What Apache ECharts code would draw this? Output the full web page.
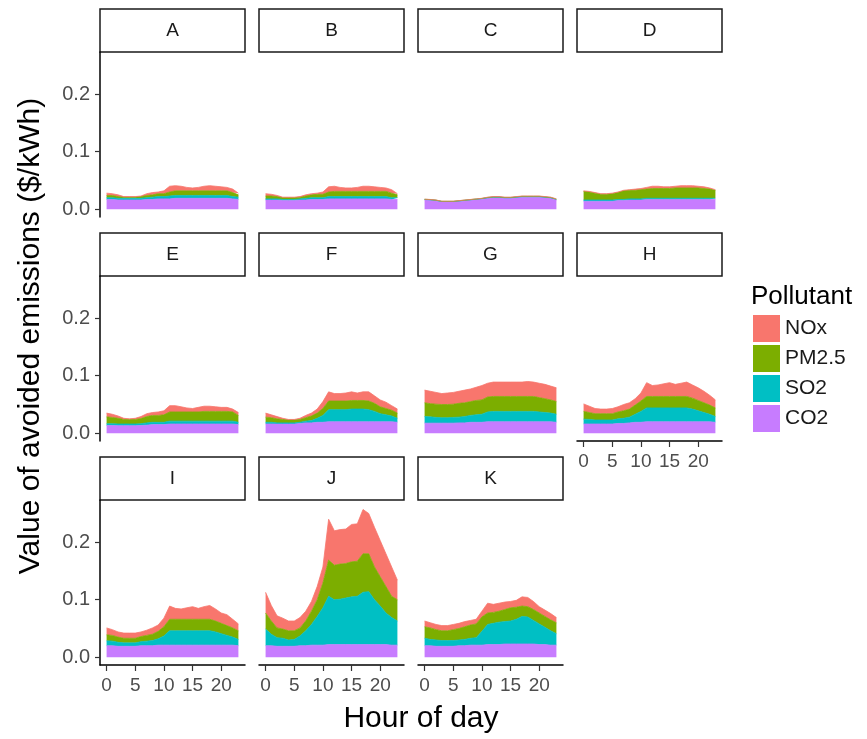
<!DOCTYPE html>
<html>
<head>
<meta charset="utf-8">
<script src="https://cdn.jsdelivr.net/npm/echarts@6/dist/echarts.min.js"></script>
<style>
    html, body { margin: 0; padding: 0; background: #fff; }
    #main { width: 867px; height: 739px; }
</style>
</head>
<body>
<div id="main"></div>
<script>
// ---- data ----
var hours = [0,1,2,3,4,5,6,7,8,9,10,11,12,13,14,15,16,17,18,19,20,21,22,23];
var panels = ['A','B','C','D','E','F','G','H','I','J','K'];
var xTicks = [0, 5, 10, 15, 20];
var yTicks = [0, 0.1, 0.2];

// one row per panel (A..K), one value per hour
var co2 = [
    [.017,.017,.016,.016,.016,.016,.016,.017,.017,.018,.018,.018,.019,.019,.019,.019,.019,.019,.019,.019,.019,.019,.018,.017],
    [.016,.016,.016,.015,.015,.015,.016,.016,.017,.017,.017,.018,.018,.018,.018,.018,.018,.018,.018,.018,.018,.018,.017,.017],
    [.016,.0155,.0145,.0125,.0125,.0125,.0135,.0145,.0155,.0165,.0175,.019,.020,.020,.019,.019,.020,.021,.021,.021,.021,.020,.019,.016],
    [.014,.014,.014,.014,.014,.014,.015,.015,.016,.016,.016,.017,.017,.017,.017,.017,.017,.017,.017,.017,.017,.017,.017,.017],
    [.0135,.0135,.013,.013,.013,.013,.0135,.014,.015,.015,.015,.016,.016,.016,.016,.016,.016,.016,.016,.016,.016,.016,.016,.015],
    [.016,.016,.016,.016,.016,.016,.017,.018,.018,.019,.019,.020,.020,.020,.020,.020,.020,.020,.020,.020,.020,.020,.020,.019],
    [.0175,.0175,.0175,.0175,.0175,.0175,.018,.018,.019,.019,.019,.020,.020,.020,.020,.020,.020,.020,.020,.020,.020,.020,.020,.019],
    [.016,.016,.016,.016,.016,.016,.017,.017,.018,.019,.019,.020,.020,.020,.020,.020,.020,.020,.020,.020,.020,.020,.020,.019],
    [.020,.020,.019,.019,.019,.019,.020,.020,.020,.021,.021,.021,.021,.021,.021,.021,.021,.021,.021,.021,.021,.021,.021,.020],
    [.020,.020,.019,.019,.019,.019,.020,.020,.021,.021,.021,.022,.022,.022,.022,.022,.022,.022,.022,.022,.022,.022,.021,.021],
    [.020,.020,.019,.019,.019,.019,.020,.020,.021,.021,.021,.022,.022,.022,.023,.023,.023,.023,.023,.023,.022,.022,.021,.021]
];
var so2 = [
    [.003,.003,.003,.003,.003,.003,.003,.003,.004,.004,.004,.005,.005,.005,.005,.005,.005,.005,.005,.005,.005,.005,.004,.004],
    [.002,.002,.002,.002,.002,.002,.002,.003,.003,.003,.003,.004,.004,.004,.004,.004,.004,.004,.004,.004,.004,.004,.003,.003],
    [.001,.001,.001,.001,.001,.001,.001,.001,.001,.001,.001,.001,.001,.001,.001,.001,.001,.001,.001,.001,.001,.001,.001,.001],
    [.002,.002,.002,.002,.002,.002,.002,.002,.002,.002,.002,.002,.002,.002,.002,.002,.002,.002,.002,.002,.002,.002,.002,.002],
    [.003,.003,.003,.003,.003,.003,.003,.004,.004,.004,.004,.005,.005,.005,.005,.005,.005,.005,.005,.005,.005,.005,.005,.004],
    [.003,.003,.002,.002,.002,.002,.002,.003,.004,.007,.012,.021,.021,.021,.021,.022,.022,.022,.021,.018,.014,.012,.010,.007],
    [.0115,.011,.010,.0095,.0095,.010,.010,.011,.012,.013,.014,.017,.018,.018,.018,.018,.018,.018,.018,.018,.017,.016,.015,.014],
    [.0085,.008,.007,.007,.007,.007,.008,.009,.010,.014,.019,.024,.024,.024,.024,.024,.024,.024,.024,.022,.019,.016,.013,.010],
    [.0085,.008,.007,.006,.006,.006,.007,.008,.009,.011,.016,.025,.025,.025,.025,.025,.025,.025,.025,.023,.020,.017,.014,.011],
    [.029,.020,.015,.014,.011,.012,.017,.026,.036,.050,.065,.084,.078,.079,.081,.083,.084,.091,.092,.078,.067,.055,.048,.042],
    [.013,.011,.011,.010,.010,.010,.010,.011,.012,.013,.024,.035,.037,.039,.039,.040,.043,.048,.047,.041,.036,.030,.025,.020]
];
var pm25 = [
    [.004,.004,.003,.002,.002,.002,.003,.004,.004,.005,.005,.007,.008,.008,.008,.008,.008,.008,.008,.008,.008,.008,.007,.004],
    [.005,.005,.004,.003,.003,.003,.003,.004,.005,.006,.006,.008,.009,.009,.009,.009,.009,.009,.009,.009,.009,.009,.008,.005],
    [.0003,.0003,.0003,.0003,.0003,.0003,.0003,.0003,.0003,.0003,.0003,.0005,.0005,.0005,.0005,.0005,.0005,.0005,.0005,.0005,.0005,.0005,.0005,.0005],
    [.015,.014,.012,.010,.010,.011,.012,.015,.015,.015,.016,.016,.017,.017,.017,.017,.018,.018,.018,.018,.018,.017,.016,.014],
    [.012,.011,.010,.008,.008,.008,.009,.011,.012,.012,.013,.016,.016,.016,.016,.016,.016,.017,.017,.017,.017,.017,.016,.012],
    [.009,.008,.007,.006,.005,.005,.005,.006,.008,.009,.012,.015,.015,.015,.015,.015,.015,.015,.015,.014,.012,.011,.010,.009],
    [.024,.023,.023,.023,.023,.023,.024,.024,.024,.025,.025,.026,.026,.026,.026,.026,.026,.026,.026,.026,.025,.024,.023,.022],
    [.0135,.012,.011,.011,.011,.011,.012,.013,.014,.016,.018,.020,.020,.020,.020,.020,.020,.020,.020,.019,.018,.017,.016,.015],
    [.0105,.010,.009,.008,.008,.008,.009,.010,.011,.013,.016,.020,.020,.020,.020,.020,.020,.020,.020,.019,.018,.017,.016,.015],
    [.028,.023,.017,.016,.016,.015,.014,.017,.023,.029,.043,.063,.060,.061,.060,.061,.061,.067,.066,.057,.051,.046,.037,.037],
    [.020,.020,.018,.017,.017,.019,.020,.022,.023,.024,.025,.020,.019,.019,.021,.023,.021,.018,.018,.019,.019,.019,.019,.019]
];
var nox = [
    [.004,.003,.003,.001,.001,.001,.001,.003,.004,.003,.005,.010,.009,.008,.006,.005,.006,.008,.009,.008,.007,.006,.006,.003],
    [.004,.003,.002,.001,.001,.001,.001,.002,.002,.002,.004,.009,.009,.007,.006,.006,.007,.009,.009,.008,.007,.006,.006,.002],
    [.0002,.0002,.0002,.0002,.0002,.0002,.0002,.0002,.0002,.0002,.0002,.0005,.0005,.0005,.0005,.0005,.0005,.0005,.0005,.0005,.0005,.0005,.0005,.0005],
    [.001,.001,.001,.001,.001,.001,.001,.001,.001,.002,.002,.003,.004,.004,.003,.003,.003,.004,.004,.004,.003,.003,.002,.001],
    [.0065,.0055,.004,.002,.001,.002,.0035,.005,.005,.006,.007,.011,.011,.009,.007,.006,.008,.009,.009,.008,.007,.007,.005,.005],
    [.007,.005,.004,.002,.001,.001,.002,.004,.005,.007,.012,.016,.013,.013,.014,.015,.013,.015,.016,.013,.012,.011,.008,.007],
    [.022,.0215,.0205,.019,.020,.0205,.021,.022,.022,.023,.025,.024,.025,.025,.025,.025,.025,.025,.026,.025,.025,.025,.024,.024],
    [.013,.011,.009,.008,.008,.009,.009,.011,.011,.011,.014,.024,.019,.020,.022,.024,.021,.023,.025,.023,.022,.020,.017,.014],
    [.012,.010,.009,.009,.009,.009,.008,.009,.011,.011,.015,.023,.019,.018,.020,.022,.019,.022,.024,.021,.018,.019,.015,.012],
    [.036,.027,.021,.019,.017,.017,.018,.017,.017,.023,.028,.071,.060,.060,.060,.065,.065,.077,.070,.069,.063,.057,.051,.034],
    [.010,.009,.009,.009,.009,.009,.009,.009,.008,.008,.010,.017,.014,.014,.013,.011,.012,.016,.016,.014,.011,.011,.011,.009]
];

// stacking order, bottom to top
var pollutants = [
    {name: 'CO2',   color: '#C77CFF', values: co2},
    {name: 'SO2',   color: '#00BFC4', values: so2},
    {name: 'PM2.5', color: '#7CAE00', values: pm25},
    {name: 'NOx',   color: '#F8766D', values: nox}
];

// ---- layout ----
var FONT = '"Liberation Sans", Arial, sans-serif';
var colLeft0 = 100, colStep = 159, panelW = 145;
var rowTop0 = 9, rowStep = 224, stripH = 43, panelH = 165;

var grids = [], xAxes = [], yAxes = [], series = [], graphics = [];

panels.forEach(function (letter, i) {
    var r = Math.floor(i / 4), c = i % 4;
    var left = colLeft0 + c * colStep;
    var top = rowTop0 + r * rowStep;
    var showX = i >= 7;      // bottom panel of each column
    var showY = c === 0;

    grids.push({left: left, top: top + stripH, width: panelW, height: panelH});

    xAxes.push({
        gridIndex: i, type: 'value', min: -1.15, max: 24.15,
        axisLine: {show: showX, onZero: false, lineStyle: {color: '#000', width: 1.5}},
        axisTick: {show: showX, customValues: xTicks, length: 6, lineStyle: {color: '#333', width: 1.2}},
        axisLabel: {show: showX, customValues: xTicks, margin: 11, fontSize: 19, color: '#4d4d4d', fontFamily: FONT},
        splitLine: {show: false}
    });
    yAxes.push({
        gridIndex: i, type: 'value', min: -0.0135, max: 0.2735,
        axisLine: {show: showY, onZero: false, lineStyle: {color: '#000', width: 1.5}},
        axisTick: {show: showY, customValues: yTicks, length: 5, lineStyle: {color: '#333', width: 1.2}},
        axisLabel: {show: showY, customValues: yTicks, margin: 10, fontSize: 20, color: '#4d4d4d', fontFamily: FONT,
            formatter: function (v) { return v.toFixed(1); }},
        splitLine: {show: false}
    });

    pollutants.forEach(function (p) {
        series.push({
            type: 'line', name: p.name,
            xAxisIndex: i, yAxisIndex: i, stack: 'panel' + i,
            // value first so that it is the dimension that gets stacked
            data: hours.map(function (h, k) { return [p.values[i][k], h]; }),
            encode: {x: 1, y: 0},
            symbol: 'none', silent: true,
            itemStyle: {color: p.color},
            lineStyle: {width: 0.8, color: p.color},
            areaStyle: {color: p.color, opacity: 1}
        });
    });

    // facet strip
    graphics.push({
        type: 'rect', silent: true,
        shape: {x: left, y: top, width: panelW, height: stripH},
        style: {fill: '#fff', stroke: '#1a1a1a', lineWidth: 1.5}
    });
    graphics.push({
        type: 'text', silent: true, x: left + panelW / 2, y: top + stripH / 2,
        style: {text: letter, fontSize: 19, fontFamily: FONT, fill: '#1a1a1a', align: 'center', verticalAlign: 'middle'}
    });
});

graphics.push({
    type: 'text', silent: true, x: 31, y: 336, rotation: Math.PI / 2,
    style: {text: 'Value of avoided emissions ($/kWh)', fontSize: 30, fontFamily: FONT, fill: '#000',
        align: 'center', verticalAlign: 'middle'}
});
graphics.push({
    type: 'text', silent: true, x: 421, y: 719,
    style: {text: 'Hour of day', fontSize: 30, fontFamily: FONT, fill: '#000', align: 'center', verticalAlign: 'middle'}
});

var option = {
    animation: false,
    backgroundColor: '#fff',
    title: {
        text: 'Pollutant', left: 751, top: 284, padding: 0,
        textStyle: {fontSize: 26, fontWeight: 'normal', color: '#000', fontFamily: FONT}
    },
    legend: {
        data: ['NOx', 'PM2.5', 'SO2', 'CO2'],
        orient: 'vertical', left: 753, top: 315, padding: 0,
        itemWidth: 27, itemHeight: 27, itemGap: 3, icon: 'rect',
        textStyle: {fontSize: 21, color: '#1a1a1a', fontFamily: FONT}
    },
    grid: grids,
    xAxis: xAxes,
    yAxis: yAxes,
    series: series,
    graphic: graphics
};

var myChart = echarts.init(document.getElementById('main'));
myChart.setOption(option);
</script>
</body>
</html>
